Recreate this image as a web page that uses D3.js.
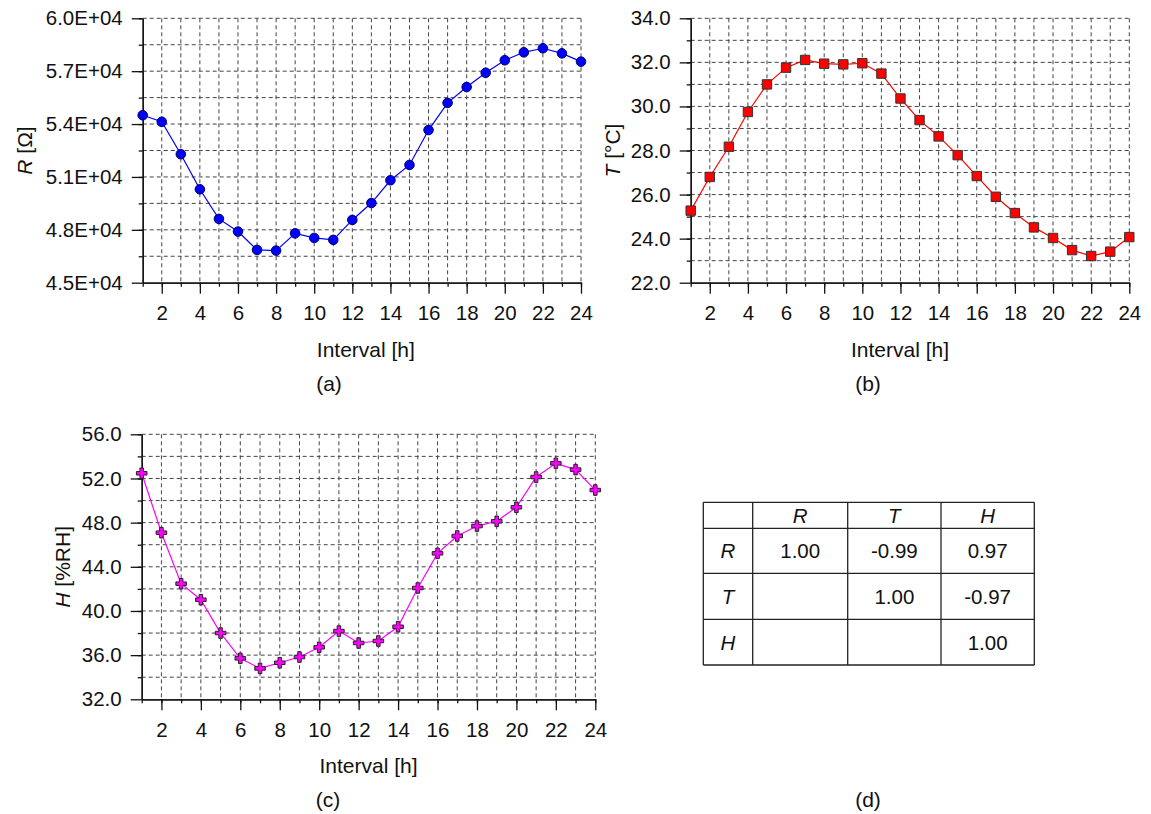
<!DOCTYPE html>
<html lang="en">
<head>
<meta charset="UTF-8">
<title>R, T, H over 24 h</title>
<script src="https://d3js.org/d3.v7.min.js"></script>
<style>
  body { margin: 0; background: #fff; }
  svg text { font-family: Arial, "Liberation Sans", sans-serif; fill: #111; }
  .grid line { stroke: #444; stroke-width: 1; stroke-dasharray: 4,3; }
  .axis path, .axis line { stroke: #111; stroke-width: 1.3; }
</style>
</head>
<body>
<div id="chart"></div>
<script>
// hours on the x axis
var hours = [1,2,3,4,5,6,7,8,9,10,11,12,13,14,15,16,17,18,19,20,21,22,23,24];

// (a) resistance, ohm
var resist = [54500,54130,52290,50300,48620,47900,46860,46820,47800,47540,47430,48560,
              49520,50810,51680,53660,55200,56100,56910,57620,58070,58300,58010,57540];
// (b) temperature, deg C
var temp = [25.27,26.80,28.17,29.75,31.00,31.76,32.11,31.94,31.91,31.96,31.49,30.36,
            29.38,28.64,27.79,26.84,25.90,25.16,24.51,24.03,23.48,23.21,23.41,24.07];
// (c) relative humidity, %RH
var humid = [52.47,47.09,42.47,41.02,38.00,35.71,34.80,35.31,35.83,36.71,38.18,37.10,
             37.28,38.57,42.08,45.22,46.79,47.69,48.12,49.39,52.13,53.37,52.80,50.95];

var xMajor = [2,4,6,8,10,12,14,16,18,20,22,24];
var resTicks = [45000,48000,51000,54000,57000,60000];
var tempTicks = [22,24,26,28,30,32,34];
var humTicks = [32,36,40,44,48,52,56];

// (d) correlation table
var corrNames = ["R","T","H"];
var corrVals = [["1.00","-0.99","0.97"],
                ["","1.00","-0.97"],
                ["","","1.00"]];

var width = 1151, height = 814;
var svg = d3.select("#chart").append("svg")
    .attr("width", width)
    .attr("height", height);

function drawPanel(p) {
    var x = d3.scaleLinear().domain([1,24]).range([p.left, p.right]);
    var y = d3.scaleLinear().domain([p.yTicks[0], p.yTicks[p.yTicks.length-1]]).range([p.bottom, p.top]);
    var step = (p.yTicks[1] - p.yTicks[0]) / 2;
    var yMinor = d3.range(p.yTicks[0] + step, p.yTicks[p.yTicks.length-1] + step/2, step);

    var g = svg.append("g");

    // dashed grid
    var grid = g.append("g").attr("class", "grid");
    grid.selectAll(".v").data(hours.slice(1)).enter().append("line")
        .attr("x1", function(d){ return x(d); }).attr("x2", function(d){ return x(d); })
        .attr("y1", p.top).attr("y2", p.bottom);
    grid.selectAll(".h").data(yMinor).enter().append("line")
        .attr("x1", p.left).attr("x2", p.right)
        .attr("y1", function(d){ return y(d); }).attr("y2", function(d){ return y(d); });

    // minor ticks
    g.append("g").attr("class", "axis")
        .attr("transform", "translate(0," + p.bottom + ")")
        .call(d3.axisBottom(x).tickValues(hours).tickSize(4).tickSizeOuter(0).tickFormat(""));
    g.append("g").attr("class", "axis")
        .attr("transform", "translate(" + p.left + ",0)")
        .call(d3.axisLeft(y).tickValues(yMinor).tickSize(4).tickSizeOuter(0).tickFormat(""));

    // major ticks with labels
    var xa = g.append("g").attr("class", "axis")
        .attr("transform", "translate(0," + p.bottom + ")")
        .call(d3.axisBottom(x).tickValues(xMajor).tickSize(11).tickSizeOuter(0).tickPadding(12));
    xa.selectAll("text").style("font-size", "20.5px");
    var ya = g.append("g").attr("class", "axis")
        .attr("transform", "translate(" + p.left + ",0)")
        .call(d3.axisLeft(y).tickValues(p.yTicks).tickSize(11).tickSizeOuter(0).tickPadding(9).tickFormat(p.fmt));
    ya.selectAll("text").style("font-size", "20.5px");

    // series line
    var line = d3.line().x(function(d, i){ return x(hours[i]); }).y(function(d){ return y(d); });
    g.append("path").datum(p.values)
        .attr("d", line)
        .attr("fill", "none")
        .attr("stroke", p.color)
        .attr("stroke-width", 1.2);

    // markers
    g.selectAll(".mk").data(p.values).enter().append("path")
        .attr("transform", function(d, i){ return "translate(" + x(hours[i]) + "," + y(d) + ")"; })
        .attr("d", d3.symbol().type(p.symbol).size(p.size))
        .attr("fill", p.color)
        .attr("stroke", p.edge)
        .attr("stroke-width", 1);

    // titles
    g.append("text")
        .attr("x", (p.left + p.right) / 2 + p.xtOff)
        .attr("y", p.bottom + 74)
        .attr("text-anchor", "middle")
        .style("font-size", "21px")
        .text("Interval [h]");

    var yl = g.append("text")
        .attr("transform", "translate(" + p.ylX + "," + ((p.top + p.bottom) / 2) + ") rotate(-90)")
        .attr("text-anchor", "middle")
        .style("font-size", "21px");
    yl.append("tspan").style("font-style", "italic").text(p.yVar);
    yl.append("tspan").text(" " + p.yUnit);

    g.append("text")
        .attr("x", p.tagX)
        .attr("y", p.bottom + 108)
        .attr("text-anchor", "middle")
        .style("font-size", "21px")
        .text(p.tag);
}

drawPanel({
    left: 142.7, right: 581, top: 18.3, bottom: 282.7,
    values: resist, yTicks: resTicks,
    fmt: function(d){ return (d / 1e4).toFixed(1) + "E+04"; },
    color: "#0000ff", edge: "#000066", symbol: d3.symbolCircle, size: 72,
    yVar: "R", yUnit: "[\u03A9]", ylX: 32, xtOff: 4, tag: "(a)", tagX: 329
});
drawPanel({
    left: 690.7, right: 1129.3, top: 18.3, bottom: 282.7,
    values: temp, yTicks: tempTicks,
    fmt: function(d){ return d.toFixed(1); },
    color: "#ff0000", edge: "#333333", symbol: d3.symbolSquare, size: 88,
    yVar: "T", yUnit: "[\u00B0C]", ylX: 620, xtOff: -10, tag: "(b)", tagX: 868
});
drawPanel({
    left: 141.7, right: 595.3, top: 434.3, bottom: 699.3,
    values: humid, yTicks: humTicks,
    fmt: function(d){ return d.toFixed(1); },
    color: "#ff00ff", edge: "#222222", symbol: d3.symbolCross, size: 62,
    yVar: "H", yUnit: "[%RH]", ylX: 70, xtOff: 0, tag: "(c)", tagX: 328
});

// (d) correlation table
var colEdges = [703.3, 752.7, 847.7, 941, 1034.3];
var rowEdges = [502.3, 528.3, 573.3, 619.3, 665];
var tbl = svg.append("g");
tbl.selectAll(".vl").data(colEdges).enter().append("line")
    .attr("x1", function(d){ return d; }).attr("x2", function(d){ return d; })
    .attr("y1", rowEdges[0]).attr("y2", rowEdges[rowEdges.length-1])
    .attr("stroke", "#222").attr("stroke-width", 1.3);
tbl.selectAll(".hl").data(rowEdges).enter().append("line")
    .attr("y1", function(d){ return d; }).attr("y2", function(d){ return d; })
    .attr("x1", colEdges[0]).attr("x2", colEdges[colEdges.length-1])
    .attr("stroke", "#222").attr("stroke-width", 1.3);

function cellX(c){ return (colEdges[c] + colEdges[c+1]) / 2; }
function cellY(r){ return (rowEdges[r] + rowEdges[r+1]) / 2; }

corrNames.forEach(function(n, i){
    tbl.append("text").attr("x", cellX(i+1)).attr("y", cellY(0))
        .attr("text-anchor", "middle").attr("dominant-baseline", "central")
        .style("font-size", "20.5px").style("font-style", "italic").text(n);
    tbl.append("text").attr("x", cellX(0)).attr("y", cellY(i+1))
        .attr("text-anchor", "middle").attr("dominant-baseline", "central")
        .style("font-size", "20.5px").style("font-style", "italic").text(n);
});
corrVals.forEach(function(row, r){
    row.forEach(function(v, c){
        tbl.append("text").attr("x", cellX(c+1)).attr("y", cellY(r+1))
            .attr("text-anchor", "middle").attr("dominant-baseline", "central")
            .style("font-size", "20.5px").text(v);
    });
});

svg.append("text")
    .attr("x", 868).attr("y", 699.3 + 108)
    .attr("text-anchor", "middle")
    .style("font-size", "21px")
    .text("(d)");
</script>
</body>
</html>
